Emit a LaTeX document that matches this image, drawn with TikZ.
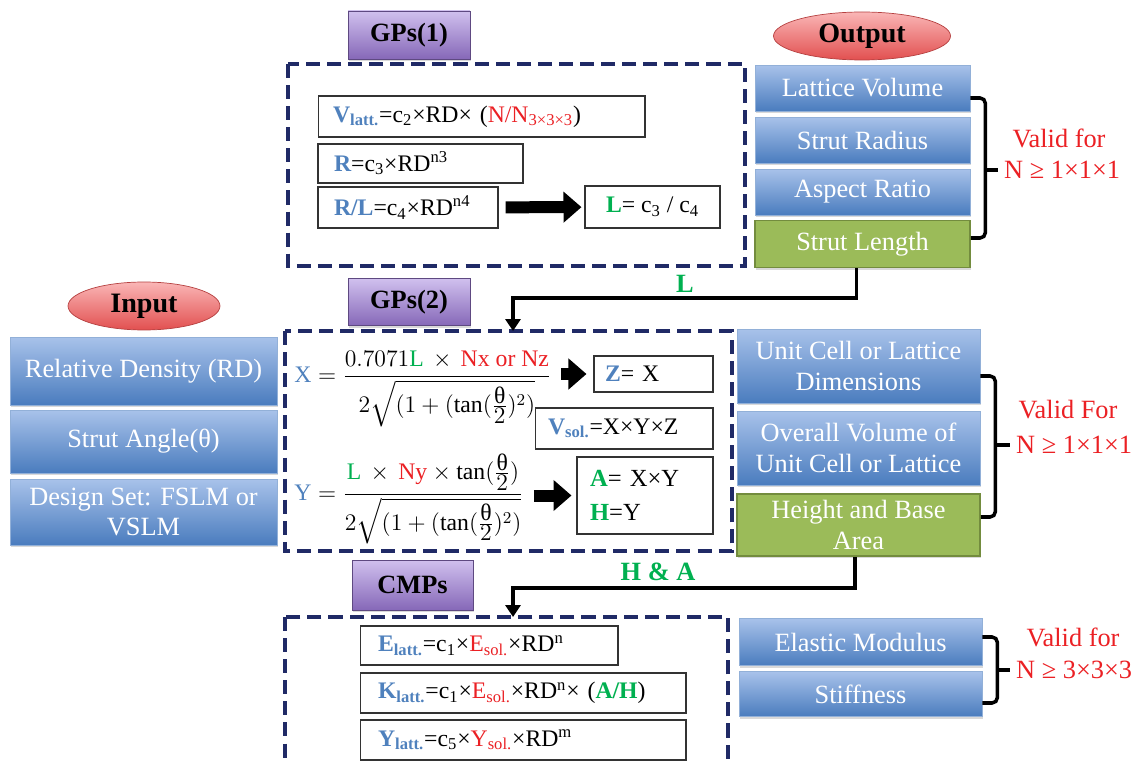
\RequirePackage{fix-cm}
\documentclass[tikz,border=0pt]{standalone}
\usepackage{fontspec}
\usepackage{amsmath}
\setmainfont{Liberation Serif}
\usetikzlibrary{positioning,shapes.geometric,shadows,arrows.meta}

\definecolor{tblue}{RGB}{79,129,189}
\definecolor{tred}{RGB}{235,32,36}
\definecolor{tgreen}{RGB}{0,176,80}
\definecolor{navy}{RGB}{32,42,102}
\definecolor{boxtop}{RGB}{168,194,234}
\definecolor{boxbot}{RGB}{74,124,190}
\definecolor{leaf}{RGB}{155,187,89}
\definecolor{leafdark}{RGB}{115,140,62}
\definecolor{lilac}{RGB}{208,192,238}
\definecolor{plum}{RGB}{134,104,184}
\definecolor{rosetop}{RGB}{250,182,182}
\definecolor{rosebot}{RGB}{226,80,80}

\newcommand{\halftheta}{\frac{\textstyle\text{θ}}{\textstyle 2}}

\tikzset{
	bluebox/.style={draw=boxbot!60, top color=boxtop, bottom color=boxbot, text=white, align=center, inner sep=0pt,
		font=\fontsize{15}{17.5}\selectfont, drop shadow={opacity=0.3, shadow xshift=0.6pt, shadow yshift=-1.2pt}},
	greenbox/.style={draw=leafdark, line width=0.9pt, fill=leaf, text=white, align=center, inner sep=0pt,
		font=\fontsize{15}{17.5}\selectfont, drop shadow={opacity=0.3, shadow xshift=0.6pt, shadow yshift=-1.2pt}},
	tagbox/.style={draw=plum!70!black, top color=lilac, bottom color=plum, minimum width=2.44cm, minimum height=0.96cm,
		font=\fontsize{15}{18}\selectfont\bfseries, drop shadow={opacity=0.3, shadow xshift=0.6pt, shadow yshift=-1.2pt}},
	oval/.style={ellipse, draw=rosebot!80!black, top color=rosetop, bottom color=rosebot, inner sep=0pt,
		minimum height=0.96cm, font=\fontsize{16}{19}\selectfont\bfseries},
	dashframe/.style={draw=navy, line width=2.3pt, dash pattern=on 8pt off 4pt},
	formbox/.style={draw=black!80, line width=0.6pt, fill=white, align=left, inner ysep=0pt, font=\fontsize{13.5}{16}\selectfont},
	fatarrow/.style={line width=0.24cm, -{Triangle[length=0.36cm, width=0.6cm]}},
	feed/.style={line width=2.2pt, -{Triangle[length=0.24cm, width=0.3cm]}},
	brace/.style={line width=2pt, rounded corners=3pt},
	valid/.style={text=tred, font=\fontsize{15}{18}\selectfont},
	carry/.style={text=tgreen, font=\fontsize{15}{18}\selectfont\bfseries},
	formula/.style={font=\fontsize{13.5}{16}\selectfont, inner sep=0pt}
}

\begin{document}
\begin{tikzpicture}[x=0.02cm, y=-0.02cm]
	\useasboundingbox (0,0) rectangle (1145,763);

	\node[tagbox] (gpone) at (409,35) {GPs(1)};
	\draw[dashframe] (288,64) rectangle (745,266);
	\node[formbox, text width=5.94cm, inner xsep=0.3cm, minimum height=0.82cm] (vlatt) at (481.5,116.5)
		{\textbf{\color{tblue}V\textsubscript{latt.}}=c\textsubscript{2}×RD× ({\color{tred}N/N\textsubscript{3×3×3}})};
	\node[formbox, text width=3.46cm, inner xsep=0.32cm, minimum height=0.78cm] (rbox) at (420.5,163.5)
		{\textbf{\color{tblue}R}=c\textsubscript{3}×RD\textsuperscript{n3}};
	\node[formbox, text width=2.96cm, inner xsep=0.32cm, minimum height=0.82cm] (rlbox) at (408,207.5)
		{\textbf{\color{tblue}R/L}=c\textsubscript{4}×RD\textsuperscript{n4}};
	\node[formbox, align=center, minimum width=2.7cm, minimum height=0.84cm] (lbox) at (652.5,207)
		{\textbf{\color{tgreen}L}= c\textsubscript{3} / c\textsubscript{4}};
	\draw[fatarrow, shorten <=0.14cm, shorten >=0.06cm] (rlbox) -- (lbox);

	\node[oval, minimum width=3.54cm] (outoval) at (862,36) {Output};
	\node[bluebox, minimum width=4.3cm, minimum height=0.92cm] (lv) at (862.5,88) {Lattice Volume};
	\node[bluebox, minimum width=4.3cm, minimum height=0.92cm] (sr) at (862.5,140) {Strut Radius};
	\node[bluebox, minimum width=4.3cm, minimum height=0.92cm] (ar) at (862.5,192) {Aspect Ratio};
	\node[greenbox, minimum width=4.3cm, minimum height=0.94cm] (sl) at (862.5,244) {Strut Length};
	\node[valid, anchor=west] (na) at (998,170) {N ≥ 1×1×1};
	\node[valid] (va) at (1059,138) {Valid for};
	\draw[brace] ([yshift=-0.2cm]lv.east) -- ++(15,0) coordinate (ba) |- ([yshift=0.12cm]sl.east);
	\draw[brace] (ba |- na.west) -- (na.west);

	\node[oval, minimum width=3.04cm] (inoval) at (144,306) {Input};
	\node[bluebox, minimum width=5.34cm, minimum height=1.36cm] (rd) at (143.5,371) {Relative Density (RD)};
	\node[bluebox, minimum width=5.34cm, minimum height=1.26cm] (sa) at (143.5,441.5) {Strut Angle(θ)};
	\node[bluebox, minimum width=5.34cm, minimum height=1.32cm] (ds) at (143.5,512) {Design Set: FSLM or\\VSLM};

	\node[tagbox, minimum height=0.94cm] (gptwo) at (409,302) {GPs(2)};
	\draw[dashframe] (285,331) rectangle (732,551);
	\coordinate (gptwotop) at (513,331);
	\node[formula, anchor=west] (xf) at (294,389)
		{$\textcolor{tblue}{\mathrm{X}} = \dfrac{0.7071\textcolor{tgreen}{\mathrm{L}} \,\times\, \textcolor{tred}{\mathrm{Nx\ or\ Nz}}}{2\sqrt{(1+(\tan(\halftheta)^{2})}}$};
	\node[formbox, text width=1.94cm, inner xsep=0.22cm, minimum height=0.72cm] (zbox) at (653.5,374)
		{\textbf{\color{tblue}Z}= X};
	\node[formbox, text width=3.04cm, inner xsep=0.26cm, minimum height=0.82cm] (vsol) at (624,428.5)
		{\textbf{\color{tblue}V\textsubscript{sol.}}=X×Y×Z};
	\node[formula, anchor=west] (yf) at (294,499)
		{$\textcolor{tblue}{\mathrm{Y}} = \dfrac{\textcolor{tgreen}{\mathrm{L}} \,\times\, \textcolor{tred}{\mathrm{Ny}} \times \tan(\halftheta)}{2\sqrt{(1+(\tan(\halftheta)^{2})}}$};
	\node[formbox, text width=2.2cm, inner xsep=0.26cm, minimum height=1.54cm, font=\fontsize{14}{19}\selectfont] (ahbox) at (645,495.5)
		{\textbf{\color{tgreen}A}= X×Y\\\textbf{\color{tgreen}H}=Y};
	\draw[fatarrow, shorten <=0.2cm, shorten >=0.14cm] (xf.east |- zbox.west) -- (zbox.west);
	\draw[fatarrow, shorten <=0.2cm, shorten >=0.1cm] (yf.east |- ahbox.west) -- (ahbox.west);

	\node[bluebox, minimum width=4.86cm, minimum height=1.48cm] (uc) at (858.5,366) {Unit Cell or Lattice\\Dimensions};
	\node[bluebox, minimum width=4.86cm, minimum height=1.48cm] (ov) at (858.5,448) {Overall Volume of\\Unit Cell or Lattice};
	\node[greenbox, minimum width=4.86cm, minimum height=1.24cm] (hb) at (858.5,525) {Height and Base\\Area};
	\node[valid, anchor=west] (nb) at (1010,445) {N ≥ 1×1×1};
	\node[valid] (vb) at (1068,410) {Valid For};
	\draw[brace] ([yshift=-0.2cm]uc.east) -- ++(15,0) coordinate (bb) |- ([yshift=0.16cm]hb.east);
	\draw[brace] (bb |- nb.west) -- (nb.west);

	\draw[feed] ([xshift=-0.12cm]sl.south) -- ++(0,30) -| (gptwotop);
	\node[carry] (lname) at (685,284) {L};

	\node[tagbox, minimum width=2.42cm, minimum height=1cm] (cmp) at (412.5,585) {CMPs};
	\draw[dashframe] (285,617) rectangle (728,772);
	\coordinate (cmptop) at (513,617);
	\node[formbox, text width=4.44cm, inner xsep=0.36cm, minimum height=0.78cm] (ebox) at (489,645.5)
		{\textbf{\color{tblue}E\textsubscript{latt.}}=c\textsubscript{1}×{\color{tred}E\textsubscript{sol.}}×RD\textsuperscript{n}};
	\node[formbox, text width=5.8cm, inner xsep=0.36cm, minimum height=0.8cm] (kbox) at (523,693)
		{\textbf{\color{tblue}K\textsubscript{latt.}}=c\textsubscript{1}×{\color{tred}E\textsubscript{sol.}}×RD\textsuperscript{n}× (\textbf{\color{tgreen}A/H})};
	\node[formbox, text width=5.8cm, inner xsep=0.36cm, minimum height=0.8cm] (ybox) at (523,740)
		{\textbf{\color{tblue}Y\textsubscript{latt.}}=c\textsubscript{5}×{\color{tred}Y\textsubscript{sol.}}×RD\textsuperscript{m}};

	\draw[feed] ([xshift=-0.07cm]hb.south) -- ++(0,31) -| (cmptop);
	\node[carry] (hname) at (658,572) {H \& A};

	\node[bluebox, minimum width=4.86cm, minimum height=0.94cm] (em) at (860.5,642) {Elastic Modulus};
	\node[bluebox, minimum width=4.86cm, minimum height=0.9cm] (st) at (860.5,694) {Stiffness};
	\node[valid, anchor=west] (nc) at (1010,670) {N ≥ 3×3×3};
	\node[valid] (vc) at (1073,637) {Valid for};
	\draw[brace] ([yshift=0.1cm]em.east) -- ++(15,0) coordinate (bc) |- ([yshift=-0.18cm]st.east);
	\draw[brace] (bc |- nc.west) -- (nc.west);
\end{tikzpicture}
\end{document}
